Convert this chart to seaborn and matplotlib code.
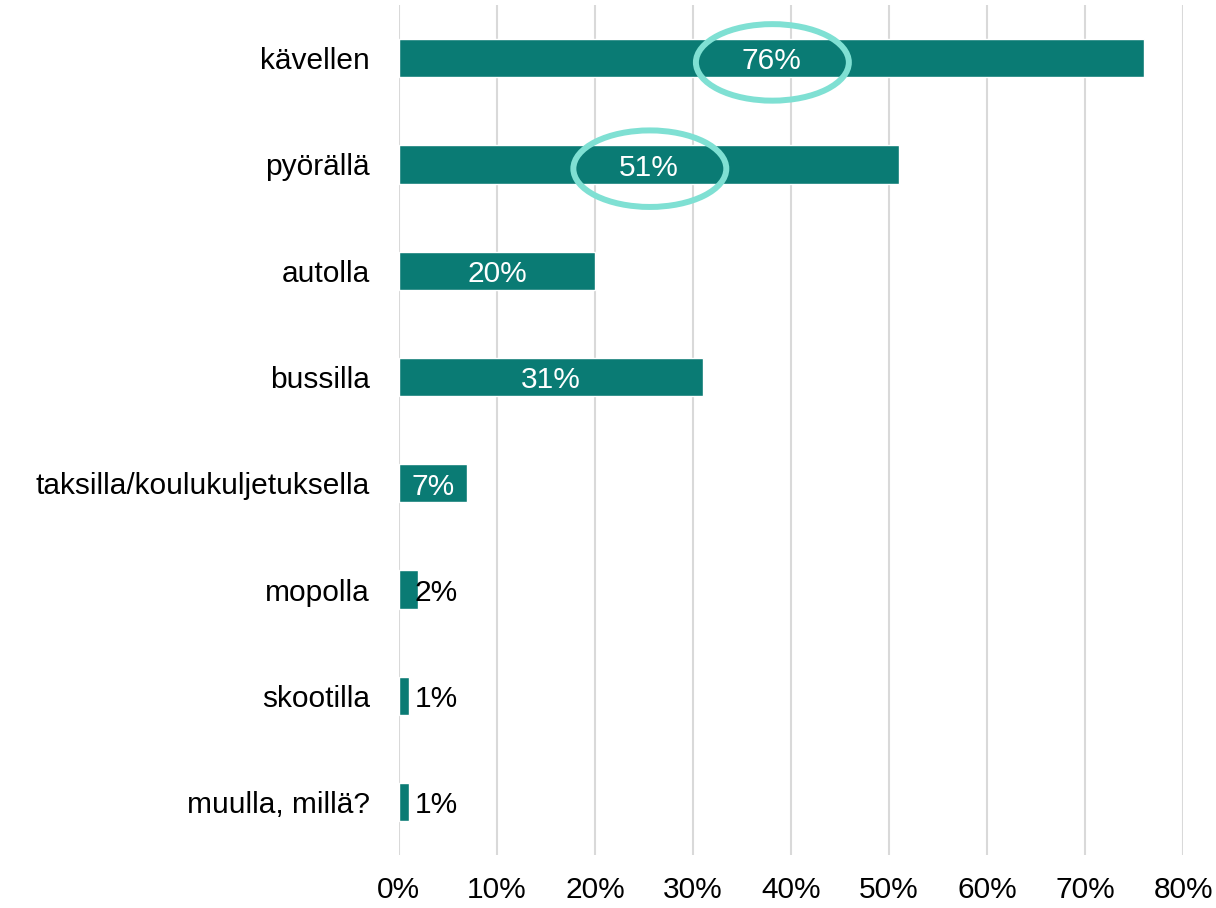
import pandas as pd
import seaborn as sns
import matplotlib.pyplot as plt
from matplotlib.patches import Ellipse

categories = ['kävellen', 'pyörällä', 'autolla', 'bussilla',
              'taksilla/koulukuljetuksella', 'mopolla', 'skootilla', 'muulla, millä?']
values = [76, 51, 20, 31, 7, 2, 1, 1]
ticks = [0, 10, 20, 30, 40, 50, 60, 70, 80]
tick_labels = [f'{t}%' for t in ticks]
highlighted = ['kävellen', 'pyörällä']

bar_color = '#0A7B74'
ring_color = '#7FE0D3'

df = pd.DataFrame({'kulku': categories, 'osuus': values})

sns.set_theme(style='white')
plt.rcParams['font.family'] = ['Liberation Sans', 'DejaVu Sans']
fs = 21.5

fig = plt.figure(figsize=(12.16, 9.08), dpi=100)
ax = fig.add_axes([0.328, 0.058, 0.645, 0.9365])

sns.barplot(data=df, x='osuus', y='kulku', color=bar_color, width=0.36,
            saturation=1, ax=ax, zorder=3)

ax.set_xlim(0, 80)
ax.set_ylim(7.5, -0.5)
ax.set_xticks(ticks)
ax.set_xticklabels(tick_labels, fontsize=fs, color='black')
ax.tick_params(axis='x', length=0, pad=15)
ax.tick_params(axis='y', length=0, pad=21, labelsize=fs, labelcolor='black')
ax.set_xlabel('')
ax.set_ylabel('')
ax.grid(axis='x', color='#D9D9D9', linewidth=1.5, zorder=0)
for s in ax.spines.values():
    s.set_visible(False)

for i, (cat, v) in enumerate(zip(categories, values)):
    if v >= 5:
        ax.text(v / 2, i + 0.03, f'{v}%', color='white', ha='center', va='center',
                fontsize=fs, zorder=5)
    else:
        ax.text(1.6, i + 0.03, f'{v}%', color='black', ha='left', va='center',
                fontsize=fs, zorder=5)
    if cat in highlighted:
        ax.add_patch(Ellipse((v / 2 + 0.1, i + 0.04), 15.6, 0.72, fill=False,
                             edgecolor=ring_color, linewidth=4.3, zorder=6))

fig.savefig('out.png', dpi=100)
